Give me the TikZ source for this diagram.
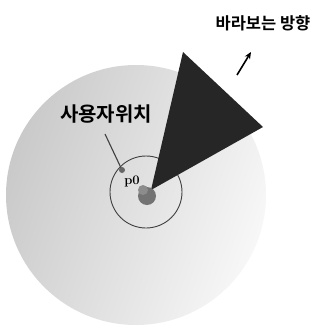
\documentclass[tikz,border=0pt]{standalone}
\usepackage{fontspec}
\newfontfamily\kr{Noto Sans CJK KR}[BoldFont={Noto Sans CJK KR Bold}]
\usetikzlibrary{arrows.meta}
\begin{document}
\begin{tikzpicture}[x=1pt,y=-1pt,
  lbl/.style={font=\kr\bfseries, inner sep=0pt},
  conn/.style={line width=1.1pt, black!75}]
\useasboundingbox (0,0) rectangle (323,330);
% big dotted disc
\shade[left color=black!21, right color=black!3, shading angle=70] (136,195) circle[radius=130];
% small circle
\node[draw=black!75, line width=0.9pt, circle, minimum size=72pt, inner sep=0pt] (sc) at (146,192) {};
% dark sector
\coordinate (apex) at (151,190);
\coordinate (tA) at (183,52);
\coordinate (tB) at (263,127);
\fill[black!85] (apex) -- (tA) -- (tB) -- cycle;
% user blob
\fill[black!55] (147,196) circle[radius=9];
\fill[black!45] (143,190) circle[radius=5];
% labels
\node[lbl, font=\kr\bfseries\fontsize{20}{20}\selectfont] (user) at (106,114) {사용자위치};
\node[font=\bfseries\fontsize{13}{13}\selectfont, inner sep=0pt] (p0) at (132,181) {p0};
\coordinate (ustart) at (105,134);
\coordinate (uend) at (122,170);
\draw[conn] (ustart) -- (uend);
\fill[black!60] (uend) circle[radius=3];
\node[lbl, font=\kr\bfseries\fontsize{16.5}{16.5}\selectfont] (dir) at (263,23) {바라보는 방향};
\coordinate (a1) at (237,75);
\coordinate (a2) at (251,52);
\draw[line width=1.6pt, -{Stealth[length=7pt,width=6pt]}] (a1) -- (a2);
\end{tikzpicture}
\end{document}
